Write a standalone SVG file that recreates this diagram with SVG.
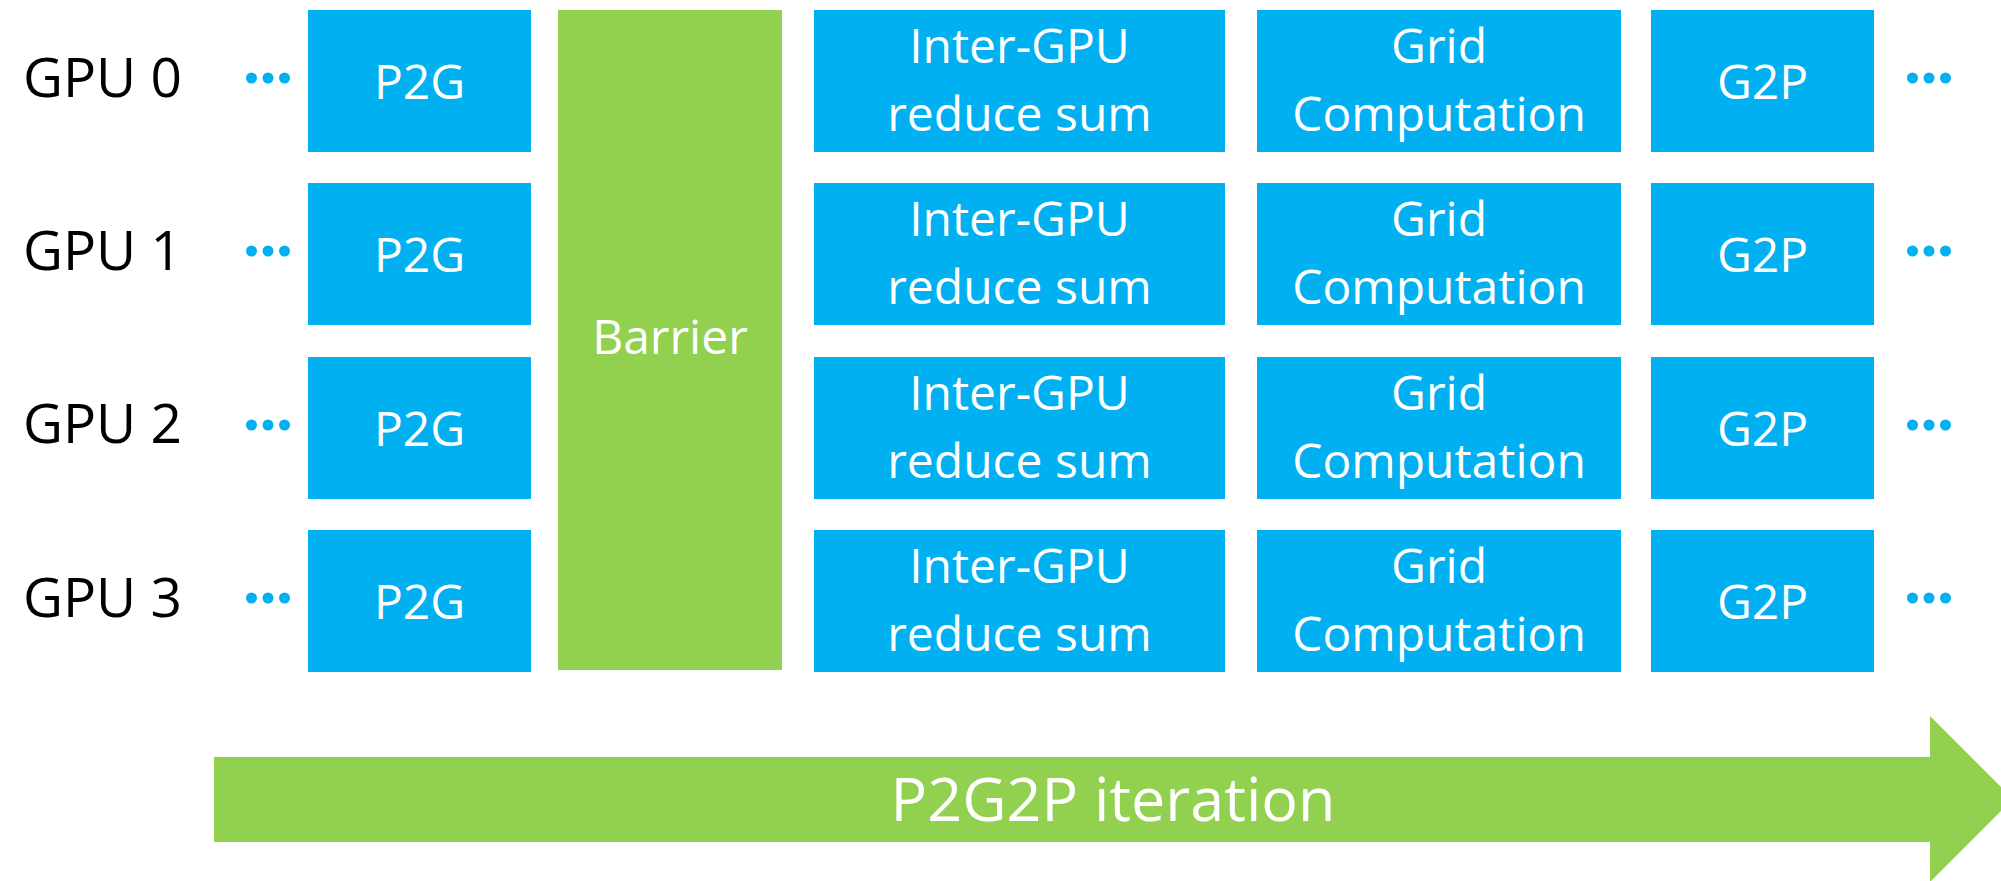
<svg xmlns="http://www.w3.org/2000/svg" width="2001" height="881" viewBox="0 0 2001 881">
<style>
.blue{fill:#00B0F0}
.green{fill:#92D050}
.lbl{font-family:"Open Sans","Liberation Sans",sans-serif;font-size:55px;fill:#000}
.bt{font-family:"Open Sans","Liberation Sans",sans-serif;font-size:48px;fill:#ffffff;text-anchor:middle}
.at{font-family:"Open Sans","Liberation Sans",sans-serif;font-size:61px;fill:#ffffff;text-anchor:middle}
.dot{fill:#00B0F0}
</style>
<defs>
<g id="dots"><circle cx="0" cy="0" r="5.5" class="dot"/><circle cx="16.5" cy="0" r="5.5" class="dot"/><circle cx="33" cy="0" r="5.5" class="dot"/></g>
</defs>
<rect width="2001" height="881" fill="#ffffff"/>

<g id="labels">
<text class="lbl" x="23" y="97">GPU 0</text>
<text class="lbl" x="23" y="270">GPU 1</text>
<text class="lbl" x="23" y="443">GPU 2</text>
<text class="lbl" x="23" y="617">GPU 3</text>
</g>

<g id="dots-left">
<use href="#dots" x="251.5" y="78"/>
<use href="#dots" x="251.5" y="251"/>
<use href="#dots" x="251.5" y="425"/>
<use href="#dots" x="251.5" y="598"/>
</g>
<g id="dots-right">
<use href="#dots" x="1912.5" y="78"/>
<use href="#dots" x="1912.5" y="251"/>
<use href="#dots" x="1912.5" y="425"/>
<use href="#dots" x="1912.5" y="598"/>
</g>

<g id="p2g-0"><rect class="blue" x="308" y="10" width="223" height="142"/><text class="bt" x="419.5" y="99">P2G</text></g>
<g id="p2g-1"><rect class="blue" x="308" y="183" width="223" height="142"/><text class="bt" x="419.5" y="272">P2G</text></g>
<g id="p2g-2"><rect class="blue" x="308" y="357" width="223" height="142"/><text class="bt" x="419.5" y="446">P2G</text></g>
<g id="p2g-3"><rect class="blue" x="308" y="530" width="223" height="142"/><text class="bt" x="419.5" y="619">P2G</text></g>

<g id="barrier"><rect class="green" x="558" y="10" width="224" height="660"/><text class="bt" x="670" y="354">Barrier</text></g>

<g id="reduce-0"><rect class="blue" x="814" y="10" width="411" height="142"/><text class="bt" x="1019.5" y="63">Inter-GPU</text><text class="bt" x="1019.5" y="131">reduce sum</text></g>
<g id="reduce-1"><rect class="blue" x="814" y="183" width="411" height="142"/><text class="bt" x="1019.5" y="236">Inter-GPU</text><text class="bt" x="1019.5" y="304">reduce sum</text></g>
<g id="reduce-2"><rect class="blue" x="814" y="357" width="411" height="142"/><text class="bt" x="1019.5" y="410">Inter-GPU</text><text class="bt" x="1019.5" y="478">reduce sum</text></g>
<g id="reduce-3"><rect class="blue" x="814" y="530" width="411" height="142"/><text class="bt" x="1019.5" y="583">Inter-GPU</text><text class="bt" x="1019.5" y="651">reduce sum</text></g>

<g id="grid-0"><rect class="blue" x="1257" y="10" width="364" height="142"/><text class="bt" x="1439" y="63">Grid</text><text class="bt" x="1439" y="131">Computation</text></g>
<g id="grid-1"><rect class="blue" x="1257" y="183" width="364" height="142"/><text class="bt" x="1439" y="236">Grid</text><text class="bt" x="1439" y="304">Computation</text></g>
<g id="grid-2"><rect class="blue" x="1257" y="357" width="364" height="142"/><text class="bt" x="1439" y="410">Grid</text><text class="bt" x="1439" y="478">Computation</text></g>
<g id="grid-3"><rect class="blue" x="1257" y="530" width="364" height="142"/><text class="bt" x="1439" y="583">Grid</text><text class="bt" x="1439" y="651">Computation</text></g>

<g id="g2p-0"><rect class="blue" x="1651" y="10" width="223" height="142"/><text class="bt" x="1762.5" y="99">G2P</text></g>
<g id="g2p-1"><rect class="blue" x="1651" y="183" width="223" height="142"/><text class="bt" x="1762.5" y="272">G2P</text></g>
<g id="g2p-2"><rect class="blue" x="1651" y="357" width="223" height="142"/><text class="bt" x="1762.5" y="446">G2P</text></g>
<g id="g2p-3"><rect class="blue" x="1651" y="530" width="223" height="142"/><text class="bt" x="1762.5" y="619">G2P</text></g>

<g id="connectors"></g>

<g id="iteration-arrow">
<polygon class="green" points="214,757 1930,757 1930,716 2013,799 1930,882 1930,842 214,842"/>
<text class="at" x="1113" y="821">P2G2P iteration</text>
</g>
</svg>
